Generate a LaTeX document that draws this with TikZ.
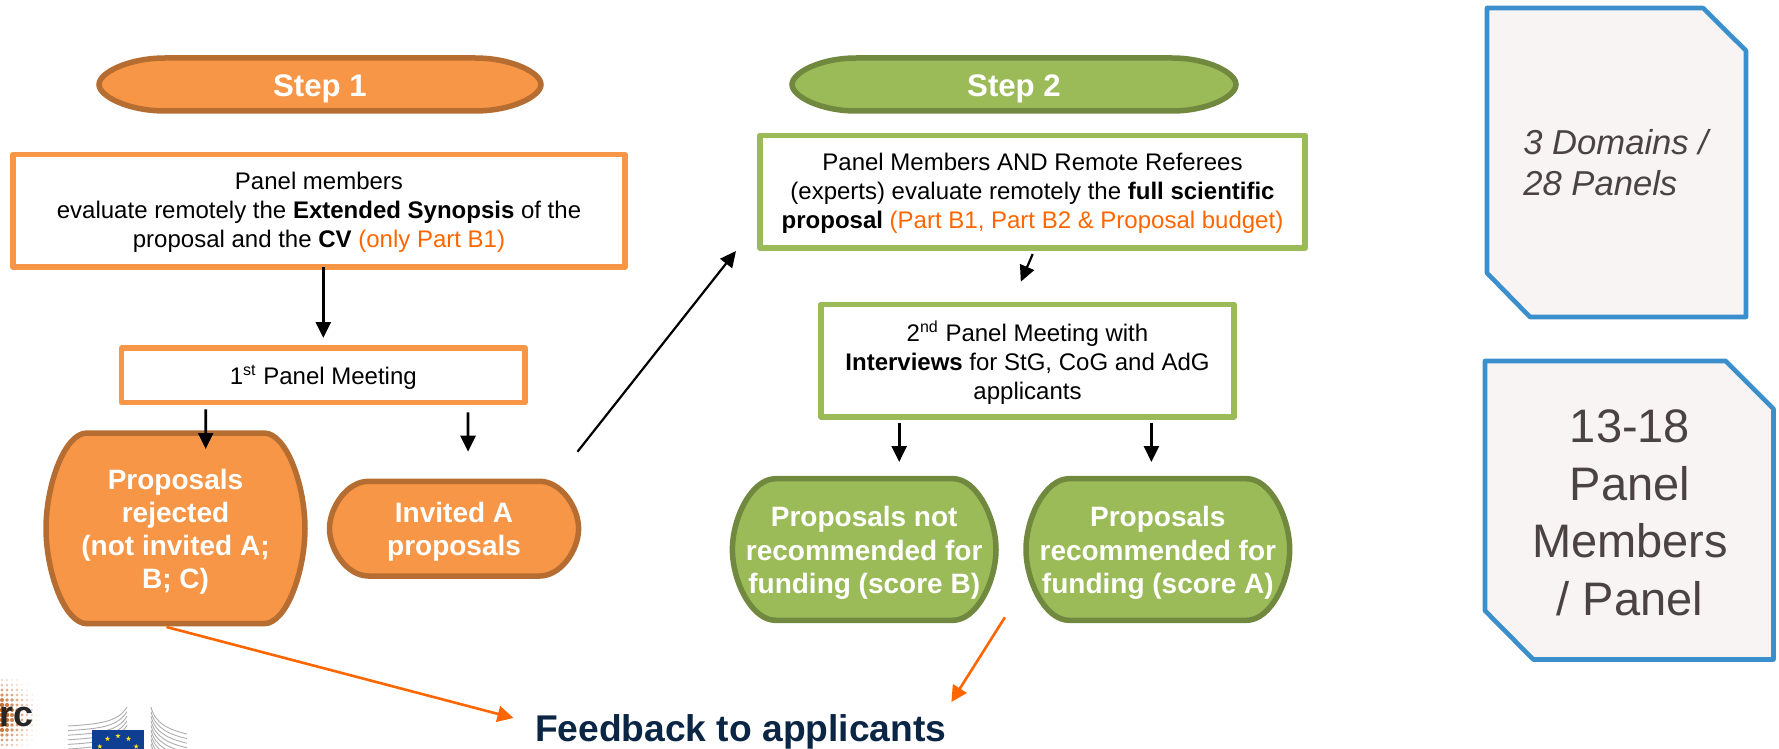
\documentclass[tikz,border=0pt]{standalone}
\usepackage{fontspec}
\setmainfont{Liberation Sans}
\usetikzlibrary{arrows.meta,calc}
\definecolor{oFill}{HTML}{F79646}
\definecolor{oLine}{HTML}{B66D31}
\definecolor{gFill}{HTML}{9BBB59}
\definecolor{gLine}{HTML}{71893F}
\definecolor{bLine}{HTML}{3C8FCD}
\definecolor{hot}{HTML}{FF6600}
\definecolor{navy}{HTML}{0B2545}
\definecolor{note}{HTML}{F7F4F3}
\definecolor{noteText}{HTML}{4A4341}
\definecolor{euBlue}{HTML}{0F3F93}
\definecolor{euStar}{HTML}{FFE11A}
\definecolor{dotCol}{HTML}{C8692A}
\newcommand{\hott}[1]{\textcolor{hot}{#1}}
\tikzset{
  x=0.5pt,y=-0.5pt,
  boxtext/.style={font=\fontsize{12}{14.5}\selectfont,align=center,inner sep=0pt,outer sep=0pt,text=black,yshift=-0.85pt},
  obox/.style={inner sep=0pt,outer sep=0pt,draw=oFill,line width=2.75pt,line join=round},
  gbox/.style={inner sep=0pt,outer sep=0pt,draw=gFill,line width=2.75pt,line join=round},
  oterm/.style={fill=oFill,draw=oLine,line width=2.75pt},
  gterm/.style={fill=gFill,draw=gLine,line width=2.75pt},
  termtext/.style={font=\bfseries\fontsize{14}{16.65}\selectfont,align=center,text=white,inner sep=0pt,outer sep=0pt,yshift=-1.7pt},
  steptext/.style={font=\bfseries\fontsize{15.6}{17}\selectfont,text=white,inner sep=0pt,outer sep=0pt,yshift=-2.2pt},
  notebox/.style={fill=note,draw=bLine,line width=2.3pt,line join=round},
  arr/.style={draw=black,line width=1.35pt,-{Triangle[length=8pt,width=7.5pt]}},
  arrthin/.style={draw=black,line width=1.1pt,-{Triangle[length=8pt,width=7.5pt]}},
  hotarr/.style={draw=hot,line width=1.3pt,-{Triangle[length=8pt,width=8pt]}},
  eustar/.pic={\fill[euStar] (270:2.6)--(306:1.1)--(342:2.6)--(18:1.1)--(54:2.6)--(90:1.1)--(126:2.6)--(162:1.1)--(198:2.6)--(234:1.1)--cycle;}
}
% #1 name, #2 box style, #3 text style, #4 x1, #5 y1, #6 x2, #7 y2, #8 corner x radius, #9 text
\newcommand{\termbox}[9]{%
  \pgfmathsetmacro\tcx{(#4+#6)/2}%
  \pgfmathsetmacro\tcy{(#5+#7)/2}%
  \pgfmathsetmacro\tkx{#8*0.4477}%
  \pgfmathsetmacro\tky{(#7-#5)/2*0.4477}%
  \pgfmathsetmacro\tw{(#6-#4)*0.5}%
  \pgfmathsetmacro\th{(#7-#5)*0.5}%
  \draw[#2] ({#4+#8},#5) -- ({#6-#8},#5)
    .. controls ({#6-\tkx},#5) and (#6,{\tcy-\tky}) .. (#6,\tcy)
    .. controls (#6,{\tcy+\tky}) and ({#6-\tkx},#7) .. ({#6-#8},#7)
    -- ({#4+#8},#7)
    .. controls ({#4+\tkx},#7) and (#4,{\tcy+\tky}) .. (#4,\tcy)
    .. controls (#4,{\tcy-\tky}) and ({#4+\tkx},#5) .. cycle;
  \node[inner sep=0pt,outer sep=0pt,minimum width=\tw pt,minimum height=\th pt] (#1) at (\tcx,\tcy) {};
  \node[#3] (#1t) at (\tcx,\tcy) {#9};
}
\begin{document}
\begin{tikzpicture}
\useasboundingbox (0,0) rectangle (1779,749);

% logos
\begin{scope}
\clip (0,0) rectangle (1779,749);
\foreach \px in {2,7,...,37}{
  \foreach \py in {680,685,...,750}{
    \pgfmathsetmacro\dd{sqrt((\px+6)*(\px+6)+(\py-716)*(\py-716))}
    \pgfmathsetmacro\aa{max(0,min(1,1.35-\dd/36))}
    \pgfmathsetmacro\rr{0.6+1.7*\aa}
    \fill[dotCol,opacity=\aa] (\px,\py) circle[radius=\rr];
  }
}
\node[font=\bfseries\fontsize{18}{20}\selectfont,text=black!85,anchor=base east,inner sep=0pt] (erc) at (34,726.7) {erc};
\foreach \d in {0,4.6,...,42}{
  \draw[black!32,line width=0.45pt] (68,726+\d) .. controls (100,724+\d) and (118,722+\d) .. (127,707+\d);
  \draw[black!32,line width=0.45pt] (151,707+\d) .. controls (155,724+\d) and (170,730+\d) .. (187,734+\d);
}
\fill[euBlue] (92.3,730) rectangle (143.7,752);
\foreach \a in {270,240,...,-60}{
  \path (118,757) ++(\a:21) pic {eustar};
}
\end{scope}

% step headers
\termbox{s1}{oterm}{steptext}{99}{58}{541}{111}{66}{Step 1}
\termbox{s2}{gterm}{steptext}{792}{58}{1236}{111}{64}{Step 2}

% step 1
\node[obox,minimum width=306pt,minimum height=56.2pt] (a) at (319,210.85) {};
\node[boxtext] (at) at (a.center)
  {Panel members\\evaluate remotely the \textbf{Extended Synopsis} of the\\proposal and the \textbf{CV} \hott{(only Part B1)}};
\node[obox,minimum width=201.7pt,minimum height=27.35pt] (m) at (323.3,375.35) {};
\node[boxtext] (mt) at (m.center) {1\textsuperscript{st} Panel Meeting};
\termbox{rej}{oterm}{termtext}{46}{433}{305}{623.7}{41}{Proposals\\rejected\\(not invited A;\\B; C)}
\termbox{inv}{oterm}{termtext}{329.5}{481.3}{578.6}{576}{39}{Invited A\\proposals}

% step 2
\node[gbox,minimum width=272.5pt,minimum height=56.35pt] (r) at (1032.5,191.65) {};
\node[boxtext] (rt) at (r.center)
  {Panel Members AND Remote Referees\\(experts) evaluate remotely the \textbf{full scientific}\\\textbf{proposal} \hott{(Part B1, Part B2 \& Proposal budget)}};
\node[gbox,minimum width=206.5pt,minimum height=56.35pt] (t) at (1027.5,360.65) {};
\node[boxtext] (tt) at (t.center)
  {2\textsuperscript{nd} Panel Meeting with\\\textbf{Interviews} for StG, CoG and AdG\\applicants};
\termbox{nr}{gterm}{termtext}{732.4}{478.7}{996}{620.3}{43}{Proposals not\\recommended for\\funding (score B)}
\termbox{rc}{gterm}{termtext}{1026}{478.7}{1289.7}{620.3}{43}{Proposals\\recommended for\\funding (score A)}

\node[font=\bfseries\fontsize{18.6}{20}\selectfont,text=navy,anchor=base west,inner sep=0pt,outer sep=0pt] (fb) at (535,741.7) {Feedback to applicants};

% connectors
\draw[arr] (m.north |- a.south) -- ($(m.north)+(0,-10)$);
\draw[arr] ($(m.south west)+(84.1,6.6)$) -- ($(rej.north)+(30.2,16)$);
\draw[arr] ($(m.south west)+(346.4,9.6)$) -- ($(inv.north)+(14,-29.6)$);
\draw[arrthin] ($(inv.north east)+(-1.1,-29.6)$) -- ($(r.south west)+(-24,3)$);
\draw[arrthin] ($(r.south)+(0.2,6)$) -- ($(t.north)+(-6.7,-22.6)$);
\draw[arr] ($(t.south west)+(78.2,5.7)$) -- ($(nr.north)+(35,-16.7)$);
\draw[arr] ($(t.south west)+(330.4,5.7)$) -- ($(rc.north)+(-6.45,-16.7)$);
\draw[hotarr] ($(rej.south)+(-9,3.3)$) -- ($(fb.base west)+(-21.5,-23.7)$);
\draw[hotarr] ($(nr.south east)+(8.9,-3)$) -- ($(fb.base east)+(5,-39.7)$);

% note boxes
\draw[notebox] (1487,8) -- (1703,8) -- (1746,50.7) -- (1746,317) -- (1530,317) -- (1487,273) -- cycle;
\node[font=\itshape\fontsize{17.3}{20.5}\selectfont,text=noteText,align=left,anchor=west,inner sep=0pt] (n1) at (1523,163) {3 Domains /\\28 Panels};
\draw[notebox] (1485,361) -- (1725.7,361) -- (1773.5,409) -- (1773.5,659.5) -- (1533.3,659.5) -- (1485,610.7) -- cycle;
\node[font=\fontsize{23.5}{28.8}\selectfont,text=noteText,align=center,inner sep=0pt] (n2) at (1630,513) {13-18\\Panel\\Members\\/ Panel};
\end{tikzpicture}
\end{document}
